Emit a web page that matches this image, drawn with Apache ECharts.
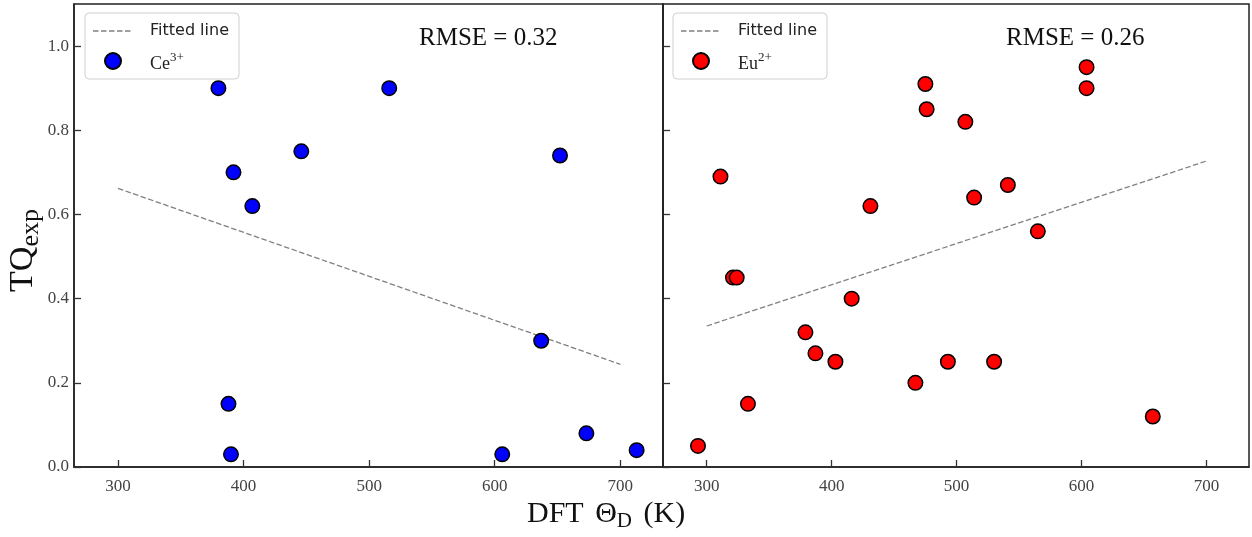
<!DOCTYPE html>
<html><head><meta charset="utf-8">
<script src="https://cdn.jsdelivr.net/npm/echarts@6/dist/echarts.min.js"></script>
<style>html,body{margin:0;padding:0;background:#fff}#c{width:1252px;height:537px}</style>
</head><body><div id="c"></div>
<script>
// ---- data ----
const ceTheta = [380, 392, 407, 446, 516, 652, 637, 388, 390, 606, 673, 713];
const ceTQ    = [0.90, 0.70, 0.62, 0.75, 0.90, 0.74, 0.30, 0.15, 0.03, 0.03, 0.08, 0.04];
const euTheta = [293, 311, 321, 324, 333, 379, 387, 403, 416, 431, 467, 475, 476, 493, 507, 514, 530, 541, 565, 604, 604, 657];
const euTQ    = [0.05, 0.69, 0.45, 0.45, 0.15, 0.32, 0.27, 0.25, 0.40, 0.62, 0.20, 0.91, 0.85, 0.25, 0.82, 0.64, 0.25, 0.67, 0.56, 0.95, 0.90, 0.12];
const fitX    = [300, 700];
const ceFitY  = [0.662, 0.244];
const euFitY  = [0.335, 0.727];
const xTicks  = [300, 400, 500, 600, 700];
const yTicks  = [0, 0.2, 0.4, 0.6, 0.8, 1.0];
const rmse    = ['0.32', '0.26'];

const serif = 'Liberation Serif';
const sans = 'DejaVu Sans';
const dashIcon = 'path://M0,7.25h5.5v1.5h-5.5z M8,7.25h5.5v1.5h-5.5z M16,7.25h5.5v1.5h-5.5z M24,7.25h5.5v1.5h-5.5z M32,7.25h5.5v1.5h-5.5z M0,0h0.01v0.01h-0.01z M39.99,15.99h0.01v0.01h-0.01z';

function xAxis(gi) {
  return {
    gridIndex: gi, type: 'value', min: 265, max: 734,
    axisLine: {show: true, lineStyle: {color: '#222', width: 1.5}},
    axisTick: {show: true, inside: true, length: 7, customValues: xTicks, lineStyle: {color: '#333', width: 1.3}},
    axisLabel: {show: true, customValues: xTicks, fontFamily: serif, fontSize: 17, color: '#444', margin: 11},
    splitLine: {show: false}
  };
}
function yAxis(gi, labels) {
  return {
    gridIndex: gi, type: 'value', min: 0, max: 1.1,
    axisLine: {show: true, lineStyle: {color: '#222', width: 1.5}},
    axisTick: {show: true, inside: true, length: 7, customValues: yTicks, lineStyle: {color: '#333', width: 1.3}},
    axisLabel: {show: labels, customValues: yTicks, formatter: v => v.toFixed(1), fontFamily: serif, fontSize: 17, color: '#444', margin: 5},
    splitLine: {show: false},
    name: labels ? '{a|TQ}{b|exp}' : '',
    nameLocation: 'middle', nameRotate: 90, nameGap: 30,
    nameTextStyle: {padding: [0, 30, 0, 0], rich: {
      a: {fontFamily: serif, fontSize: 34, color: '#111', lineHeight: 38, padding: [0, 0, 3, 0]},
      b: {fontFamily: serif, fontSize: 26, color: '#111', verticalAlign: 'bottom', lineHeight: 26}
    }}
  };
}
function legend(left, name) {
  return {
    left: left, top: 13, orient: 'vertical',
    data: [{name: 'Fitted line', icon: dashIcon, itemStyle: {color: '#808080', borderWidth: 0}},
           {name: name, icon: 'circle'}],
    backgroundColor: '#fff', borderColor: '#d0d0d0', borderWidth: 1, borderRadius: 4,
    padding: [10, 10, 6, 8], itemWidth: 40, itemHeight: 16, itemGap: 10,
    formatter: n => n === 'Fitted line' ? '{f|Fitted line}' : '{m|' + n.slice(0, 2) + '}{s|' + n.slice(2) + '}',
    textStyle: {padding: [0, 0, 0, 12], rich: {
      f: {fontFamily: sans, fontSize: 16, color: '#222', lineHeight: 20},
      m: {fontFamily: serif, fontSize: 18, color: '#222', lineHeight: 20, padding: [6, 0, 0, 0]},
      s: {fontFamily: serif, fontSize: 13, color: '#222', verticalAlign: 'top', lineHeight: 13}
    }}
  };
}
const pts = (xs, ys) => xs.map((x, i) => [x, ys[i]]);
const rmseStyle = {fontFamily: serif, fontSize: 25, fontWeight: 'normal', color: '#111'};

const option = {
  animation: false,
  grid: [
    {left: 74, top: 4, width: 589, height: 463, show: true, borderColor: '#222', borderWidth: 1.5},
    {left: 663, top: 4, width: 586, height: 463, show: true, borderColor: '#222', borderWidth: 1.5}
  ],
  xAxis: [xAxis(0), xAxis(1)],
  yAxis: [yAxis(0, true), yAxis(1, false)],
  legend: [legend(85, 'Ce3+'), legend(673, 'Eu2+')],
  title: [
    {text: 'RMSE = ' + rmse[0], left: 419, top: 26, padding: 0, textStyle: rmseStyle},
    {text: 'RMSE = ' + rmse[1], left: 1006, top: 26, padding: 0, textStyle: rmseStyle},
    {text: '{a|DFT }{c|Θ}{b|D}{a| }{c|(K)}', left: 527, top: 500, padding: 0, textStyle: {rich: {
      a: {fontFamily: serif, fontSize: 30, fontWeight: 'normal', color: '#111', lineHeight: 32, padding: [0, 0, 3, 0]},
      c: {fontFamily: serif, fontSize: 30, fontWeight: 'normal', color: '#111', lineHeight: 32, padding: [0, 0, 3, 4]},
      b: {fontFamily: serif, fontSize: 21, fontWeight: 'normal', color: '#111', verticalAlign: 'bottom', lineHeight: 21}
    }}}
  ],
  series: [
    {name: 'Fitted line', type: 'line', xAxisIndex: 0, yAxisIndex: 0, data: pts(fitX, ceFitY), symbol: 'none',
     lineStyle: {color: '#808080', width: 1.3, type: [5.5, 2.5]}, itemStyle: {color: '#808080'}, z: 2},
    {name: 'Ce3+', type: 'scatter', xAxisIndex: 0, yAxisIndex: 0, data: pts(ceTheta, ceTQ), symbolSize: 14.5,
     itemStyle: {color: '#0000ff', borderColor: '#000', borderWidth: 1.5, opacity: 1}, z: 3},
    {name: 'Fitted line', type: 'line', xAxisIndex: 1, yAxisIndex: 1, data: pts(fitX, euFitY), symbol: 'none',
     lineStyle: {color: '#808080', width: 1.3, type: [5.5, 2.5]}, itemStyle: {color: '#808080'}, z: 2},
    {name: 'Eu2+', type: 'scatter', xAxisIndex: 1, yAxisIndex: 1, data: pts(euTheta, euTQ), symbolSize: 14.5,
     itemStyle: {color: '#ff0000', borderColor: '#000', borderWidth: 1.5, opacity: 1}, z: 3}
  ]
};
echarts.init(document.getElementById('c')).setOption(option);
</script>
</body></html>
